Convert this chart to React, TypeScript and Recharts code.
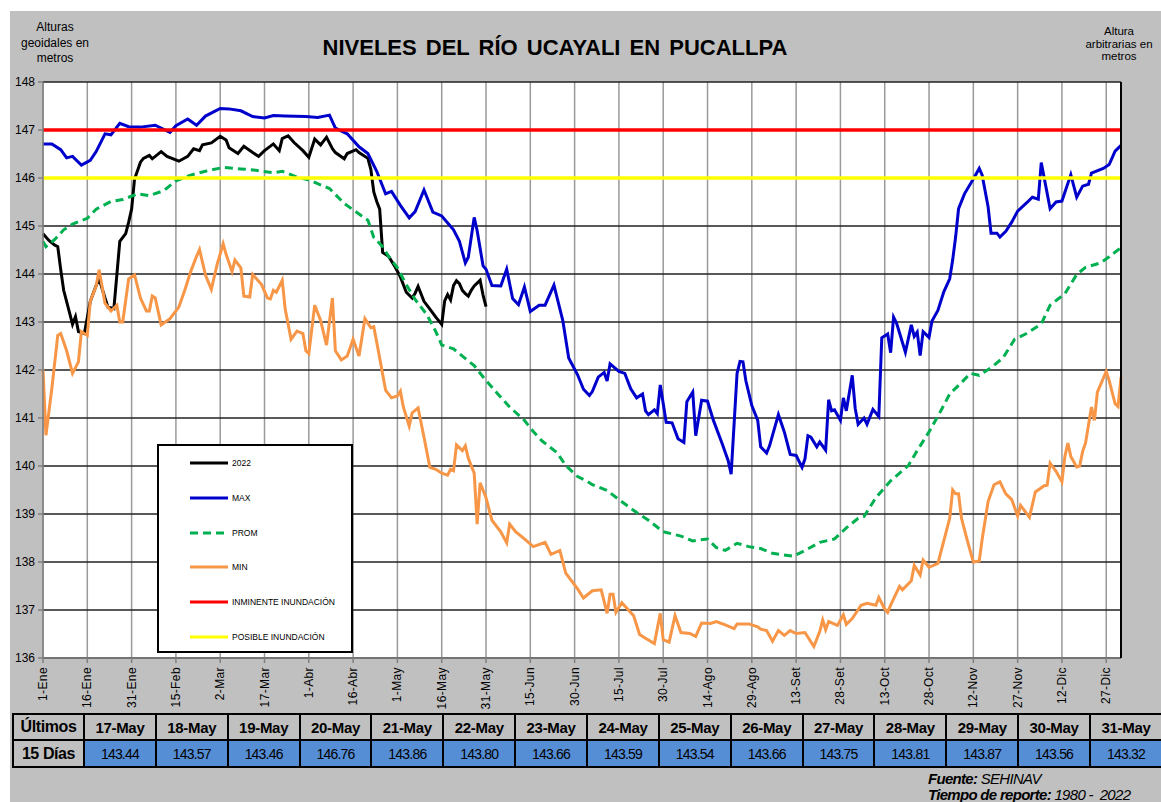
import React from "react";
import { LineChart, Line, XAxis, YAxis, CartesianGrid, Legend } from "recharts";

const FONT = '"Liberation Sans", Arial, sans-serif';
const NARROW = '"Liberation Sans Narrow", "Arial Narrow", "Liberation Sans", Arial, sans-serif';

// eje X: días desde 1-Ene
const xTicks = [0, 15, 30, 45, 60, 75, 90, 105, 120, 135, 150, 165, 180, 195, 210, 225, 240, 255, 270, 285, 300, 315, 330, 345, 360];
const xTickLabels = [
  "1-Ene", "16-Ene", "31-Ene", "15-Feb", "2-Mar", "17-Mar", "1-Abr", "16-Abr", "1-May", "16-May",
  "31-May", "15-Jun", "30-Jun", "15-Jul", "30-Jul", "14-Ago", "29-Ago", "13-Set", "28-Set", "13-Oct",
  "28-Oct", "12-Nov", "27-Nov", "12-Dic", "27-Dic",
];

const yTicks = [136, 137, 138, 139, 140, 141, 142, 143, 144, 145, 146, 147, 148];
// etiquetas del eje derecho (alturas arbitrarias), en el mismo orden que yTicks
const rightTickLabels = [
  "135.7\n5", "136.7\n5", "137.75", "138.7\n5", "139.75", "140.7\n5", "141.75",
  "142.7\n5", "143.7\n5", "144.75", "145.75", "146.75", "147.75",
];

// [día, nivel]
const serie2022: [number, number][] = [
  [0, 144.84], [2, 144.7], [4, 144.6], [5, 144.57], [6, 144.09], [7, 143.66], [9, 143.19], [10, 142.95],
  [11, 143.11], [12, 142.8], [14, 142.76], [16, 143.43], [18, 143.76], [19, 143.9], [21, 143.5], [22, 143.31],
  [24, 143.28], [26, 144.68], [28, 144.84], [29, 145.08], [30, 145.35], [31, 145.98], [33, 146.33], [34, 146.41],
  [36, 146.47], [37, 146.4], [40, 146.55], [42, 146.45], [46, 146.35], [49, 146.45], [51, 146.61], [53, 146.57],
  [54, 146.69], [57, 146.73], [60, 146.87], [62, 146.79], [63, 146.63], [66, 146.51], [68, 146.66], [71, 146.53],
  [73, 146.45], [75, 146.57], [78, 146.71], [80, 146.57], [81, 146.82], [83, 146.88], [85, 146.74], [88, 146.57],
  [90, 146.43], [92, 146.81], [94, 146.69], [96, 146.85], [98, 146.61], [99, 146.53], [102, 146.4], [103, 146.51],
  [106, 146.59], [107, 146.53], [110, 146.41], [111, 146.18], [112, 145.71], [113, 145.51], [114, 145.35],
  [115, 144.45], [117, 144.37], [119, 144.17], [121, 143.94], [123, 143.62], [125, 143.5], [126, 143.6],
  [127, 143.74], [129, 143.43], [131, 143.27], [133, 143.1], [135, 142.95], [136, 143.44], [137, 143.57],
  [138, 143.46], [139, 143.76], [140, 143.86], [141, 143.8], [142, 143.66], [143, 143.59], [144, 143.54],
  [145, 143.66], [146, 143.75], [147, 143.81], [148, 143.87], [149, 143.56], [150, 143.32],
];

const serieMax: [number, number][] = [
  [0, 146.71], [3, 146.71], [6, 146.59], [8, 146.42], [10, 146.45], [13, 146.27], [16, 146.37], [18, 146.55],
  [21, 146.92], [23, 146.9], [26, 147.14], [29, 147.07], [33, 147.06], [38, 147.1], [43, 146.95], [45, 147.09],
  [49, 147.23], [52, 147.1], [55, 147.29], [60, 147.45], [63, 147.44], [67, 147.4], [71, 147.28], [75, 147.25],
  [78, 147.3], [82, 147.29], [89, 147.28], [93, 147.26], [97, 147.31], [99, 147.04], [103, 146.92], [107, 146.65],
  [110, 146.51], [113, 146.14], [116, 145.67], [118, 145.72], [121, 145.43], [124, 145.17], [126, 145.3],
  [129, 145.75], [132, 145.29], [135, 145.21], [139, 144.92], [141, 144.68], [143, 144.23], [144, 144.35],
  [146, 145.18], [147, 144.9], [149, 144.17], [150, 144.1], [152, 143.76], [155, 143.75], [157, 144.1],
  [159, 143.49], [161, 143.36], [163, 143.73], [165, 143.22], [168, 143.35], [170, 143.35], [173, 143.77],
  [176, 143.03], [178, 142.25], [181, 141.9], [183, 141.6], [185, 141.47], [186, 141.55], [188, 141.85],
  [190, 141.95], [191, 141.77], [192, 142.13], [195, 141.97], [197, 141.93], [199, 141.61], [201, 141.42],
  [203, 141.5], [204, 141.15], [205, 141.07], [207, 141.17], [208, 141.09], [209, 141.69], [211, 140.91],
  [213, 140.9], [215, 140.57], [217, 140.49], [218, 141.34], [220, 141.54], [221, 140.63], [223, 141.37],
  [225, 141.35], [227, 140.95], [230, 140.46], [232, 140.11], [233, 139.83], [235, 141.93], [236, 142.18],
  [237, 142.17], [238, 141.77], [240, 141.26], [242, 140.95], [243, 140.4], [245, 140.27], [246, 140.42],
  [249, 141.07], [251, 140.71], [253, 140.24], [255, 140.22], [257, 139.97], [258, 140.15], [259, 140.63],
  [260, 140.6], [262, 140.4], [263, 140.5], [265, 140.33], [266, 141.38], [267, 141.15], [268, 141.17],
  [270, 140.95], [271, 141.42], [272, 141.15], [274, 141.89], [275, 141.2], [276, 140.87], [278, 141.0],
  [279, 140.87], [281, 141.18], [283, 141.03], [284, 142.67], [286, 142.75], [287, 142.36], [288, 143.1],
  [289, 142.98], [292, 142.37], [294, 142.94], [295, 142.7], [296, 142.79], [297, 142.3], [298, 142.8],
  [300, 142.68], [301, 143.02], [303, 143.24], [305, 143.63], [307, 143.9], [308, 144.29], [309, 144.77],
  [310, 145.36], [312, 145.67], [315, 145.98], [317, 146.2], [318, 146.06], [320, 145.4], [321, 144.85],
  [323, 144.85], [324, 144.77], [326, 144.89], [328, 145.08], [330, 145.31], [333, 145.48], [335, 145.6],
  [337, 145.56], [338, 146.32], [341, 145.36], [343, 145.5], [345, 145.52], [348, 146.07], [350, 145.6],
  [352, 145.83], [354, 145.87], [355, 146.1], [359, 146.2], [361, 146.28], [363, 146.56], [365, 146.68],
];

const serieProm: [number, number][] = [
  [0, 144.68], [1, 144.57], [4, 144.72], [7, 144.92], [10, 145.04], [15, 145.16], [18, 145.35], [23, 145.51],
  [27, 145.55], [32, 145.67], [36, 145.63], [41, 145.74], [45, 145.94], [50, 146.06], [55, 146.14], [61, 146.22],
  [67, 146.19], [72, 146.16], [78, 146.11], [81, 146.14], [86, 146.02], [90, 145.96], [97, 145.78], [102, 145.47],
  [107, 145.25], [110, 145.12], [112, 144.76], [115, 144.57], [117, 144.37], [120, 144.13], [123, 143.78],
  [126, 143.47], [130, 143.15], [133, 142.8], [135, 142.52], [139, 142.44], [142, 142.29], [146, 142.09],
  [150, 141.78], [154, 141.5], [158, 141.23], [163, 140.95], [166, 140.72], [169, 140.52], [174, 140.28],
  [177, 140.01], [181, 139.78], [184, 139.69], [186, 139.61], [191, 139.49], [195, 139.3], [201, 139.03],
  [205, 138.87], [210, 138.63], [216, 138.54], [220, 138.44], [225, 138.48], [228, 138.3], [231, 138.24],
  [235, 138.39], [239, 138.32], [243, 138.28], [247, 138.18], [254, 138.12], [258, 138.24], [263, 138.41],
  [268, 138.48], [272, 138.71], [276, 138.91], [278, 138.95], [282, 139.34], [287, 139.69], [293, 140.01],
  [296, 140.32], [300, 140.71], [304, 141.15], [307, 141.5], [311, 141.74], [314, 141.93], [317, 141.89],
  [321, 142.05], [325, 142.25], [329, 142.64], [333, 142.76], [338, 142.96], [341, 143.35], [346, 143.59],
  [350, 143.99], [353, 144.14], [358, 144.23], [361, 144.36], [365, 144.55],
];

const serieMin: [number, number][] = [
  [0, 142.01], [1, 140.64], [3, 141.62], [5, 142.72], [6, 142.76], [8, 142.4], [10, 141.93], [12, 142.17],
  [13, 142.8], [15, 142.72], [16, 143.43], [18, 143.75], [19, 144.09], [21, 143.39], [23, 143.23], [25, 143.35],
  [26, 143.0], [27, 143.0], [29, 143.9], [31, 143.98], [33, 143.5], [35, 143.23], [36, 143.23], [37, 143.54],
  [38, 143.5], [40, 142.94], [43, 143.07], [45, 143.23], [46, 143.31], [48, 143.66], [50, 144.05], [52, 144.37],
  [53, 144.51], [55, 143.98], [57, 143.68], [59, 144.21], [61, 144.63], [62, 144.41], [64, 144.05], [65, 144.29],
  [67, 144.13], [68, 143.54], [70, 143.52], [71, 143.99], [74, 143.78], [76, 143.5], [77, 143.48], [78, 143.66],
  [79, 143.62], [81, 143.87], [82, 143.27], [84, 142.64], [86, 142.81], [88, 142.76], [89, 142.4], [90, 142.34],
  [92, 143.35], [94, 143.03], [96, 142.52], [98, 143.5], [99, 142.4], [101, 142.21], [103, 142.29], [105, 142.64],
  [107, 142.29], [109, 143.07], [111, 142.88], [112, 142.9], [114, 142.25], [116, 141.58], [118, 141.42],
  [120, 141.46], [121, 141.56], [122, 141.23], [124, 140.83], [125, 141.11], [127, 141.21], [129, 140.6],
  [131, 139.97], [133, 139.93], [135, 139.85], [137, 139.81], [138, 139.93], [139, 139.9], [140, 140.44],
  [142, 140.32], [143, 140.42], [144, 140.16], [146, 139.85], [147, 138.79], [148, 139.65], [150, 139.34],
  [152, 138.87], [155, 138.63], [157, 138.4], [158, 138.79], [160, 138.63], [163, 138.48], [166, 138.32],
  [170, 138.41], [172, 138.16], [175, 138.24], [177, 137.77], [181, 137.44], [183, 137.25], [186, 137.4],
  [189, 137.42], [191, 136.93], [192, 137.33], [193, 137.33], [194, 136.95], [196, 137.15], [200, 136.88],
  [202, 136.49], [204, 136.41], [207, 136.3], [209, 136.93], [210, 136.38], [212, 136.33], [214, 136.88],
  [216, 136.53], [219, 136.51], [221, 136.45], [223, 136.73], [226, 136.72], [228, 136.76], [231, 136.69],
  [234, 136.61], [235, 136.71], [239, 136.71], [242, 136.65], [243, 136.6], [245, 136.57], [247, 136.35],
  [249, 136.57], [251, 136.47], [253, 136.57], [255, 136.51], [258, 136.53], [261, 136.24], [263, 136.55],
  [264, 136.79], [265, 136.59], [266, 136.76], [269, 136.68], [271, 136.9], [272, 136.7], [274, 136.82],
  [277, 137.1], [279, 137.14], [282, 137.1], [283, 137.26], [285, 137.02], [286, 136.95], [287, 137.1],
  [290, 137.49], [291, 137.42], [294, 137.61], [295, 137.93], [297, 137.73], [298, 138.04], [300, 137.89],
  [303, 137.97], [305, 138.44], [307, 138.91], [308, 139.5], [309, 139.42], [310, 139.42], [311, 138.91],
  [313, 138.44], [315, 138.0], [317, 138.02], [318, 138.48], [320, 139.26], [322, 139.61], [324, 139.67],
  [326, 139.42], [328, 139.3], [330, 138.96], [331, 139.18], [334, 138.93], [336, 139.46], [339, 139.59],
  [340, 139.6], [341, 140.06], [343, 139.89], [345, 139.67], [346, 140.2], [347, 140.48], [348, 140.2],
  [350, 139.98], [351, 140.0], [352, 140.3], [353, 140.48], [355, 141.23], [356, 140.95], [357, 141.54],
  [360, 141.97], [361, 141.78], [363, 141.3], [364, 141.24], [365, 141.85],
];

const nivelInminente = 147;
const nivelPosible = 146;

const tableDates = [
  "17-May", "18-May", "19-May", "20-May", "21-May", "22-May", "23-May", "24-May",
  "25-May", "26-May", "27-May", "28-May", "29-May", "30-May", "31-May",
];
const tableValues = [
  "143.44", "143.57", "143.46", "146.76", "143.86", "143.80", "143.66", "143.59",
  "143.54", "143.66", "143.75", "143.81", "143.87", "143.56", "143.32",
];

const toPoints = (s: [number, number][]) => s.map(([day, v]) => ({ day, v }));
const level = (v: number) => [{ day: 0, v }, { day: 365, v }];

const series = [
  { name: "2022", data: toPoints(serie2022), color: "#000000", width: 3 },
  { name: "MAX", data: toPoints(serieMax), color: "#0000CC", width: 3 },
  { name: "PROM", data: toPoints(serieProm), color: "#00B050", width: 3, dash: "8 5" },
  { name: "MIN", data: toPoints(serieMin), color: "#F79646", width: 3 },
  { name: "INMINENTE INUNDACIÓN", data: level(nivelInminente), color: "#FF0000", width: 3.5 },
  { name: "POSIBLE INUNDACIÓN", data: level(nivelPosible), color: "#FFFF00", width: 3.5 },
];

function XTick(props: any) {
  const { x, y, payload } = props;
  const label = xTickLabels[xTicks.indexOf(payload.value)];
  return (
    <text
      transform={`translate(${x + 4},${y + 2}) rotate(-90)`}
      textAnchor="end"
      fontSize={12}
      letterSpacing={0.4}
      fill="#000"
      fontFamily={FONT}
    >
      {label}
    </text>
  );
}

function RightTick(props: any) {
  const { x, y, payload } = props;
  const label = rightTickLabels[yTicks.indexOf(payload.value)] || "";
  const parts = label.split("\n");
  if (parts.length === 1) {
    return (
      <text x={x} y={y + 9} fontSize={11} fill="#000" fontFamily={FONT} textAnchor="start">
        {label}
      </text>
    );
  }
  return (
    <text x={x} y={y + 7} fontSize={11} fill="#000" fontFamily={FONT} textAnchor="start">
      <tspan x={x}>{parts[0]}</tspan>
      <tspan x={x} dy={12}>{parts[1]}</tspan>
    </text>
  );
}

function LegendBox() {
  return (
    <div
      style={{
        width: 196,
        height: 209,
        boxSizing: "border-box",
        border: "2px solid #000",
        background: "#fff",
        position: "relative",
        fontFamily: FONT,
      }}
    >
      {series.map((s, i) => (
        <div
          key={s.name}
          style={{
            position: "absolute",
            left: 31,
            top: 11 + i * 34.8,
            height: 12,
            display: "flex",
            alignItems: "center",
            whiteSpace: "nowrap",
          }}
        >
          <svg width={38} height={12}>
            <line x1={0} y1={6} x2={38} y2={6} stroke={s.color} strokeWidth={3} strokeDasharray={s.dash} />
          </svg>
          <span style={{ marginLeft: 4, fontSize: 8.5, color: "#000" }}>{s.name}</span>
        </div>
      ))}
    </div>
  );
}

const cellBase: React.CSSProperties = {
  border: "2px solid #000",
  textAlign: "center",
  padding: 0,
  color: "#000",
};

export default function App() {
  return (
    <div
      style={{
        position: "absolute",
        left: 0,
        top: 0,
        width: 1161,
        height: 802,
        background: "#fff",
        overflow: "hidden",
        fontFamily: FONT,
      }}
    >
      <div style={{ position: "absolute", left: 10, top: 11, right: 0, bottom: 0, background: "#C0C0C0" }} />

      <div
        style={{
          position: "absolute",
          left: 15,
          top: 20,
          width: 80,
          textAlign: "center",
          fontSize: 12,
          lineHeight: "15.5px",
          color: "#000",
        }}
      >
        Alturas
        <br />
        geoidales en
        <br />
        metros
      </div>
      <div
        style={{
          position: "absolute",
          left: 1074,
          top: 25,
          width: 90,
          textAlign: "center",
          fontSize: 11.5,
          lineHeight: "12.5px",
          color: "#000",
        }}
      >
        Altura
        <br />
        arbitrarias en
        <br />
        metros
      </div>
      <div
        style={{
          position: "absolute",
          left: 255,
          top: 34,
          width: 600,
          textAlign: "center",
          fontSize: 22,
          fontWeight: "bold",
          wordSpacing: 3,
          lineHeight: "28px",
          color: "#000",
        }}
      >
        NIVELES DEL RÍO UCAYALI EN PUCALLPA
      </div>

      <div style={{ position: "absolute", left: 0, top: 0 }}>
        <LineChart width={1161} height={710} margin={{ top: 82, right: 0, bottom: 0, left: 10 }}>
          <CartesianGrid yAxisId="left" horizontal={false} stroke="#9A9A9A" strokeWidth={1.5} fill="#fff" />
          <CartesianGrid yAxisId="left" vertical={false} stroke="#222" strokeWidth={1.3} />
          <XAxis
            dataKey="day"
            type="number"
            domain={[0, 365]}
            ticks={xTicks}
            interval={0}
            height={52}
            tickSize={5}
            tickMargin={2}
            tick={<XTick />}
            stroke="#808080"
            strokeWidth={1.5}
          />
          <YAxis
            yAxisId="left"
            domain={[136, 148]}
            ticks={yTicks}
            interval={0}
            width={33}
            tickSize={5}
            tickMargin={3}
            stroke="#808080"
            strokeWidth={1.5}
            tick={{ fontSize: 12, fill: "#000", fontFamily: FONT }}
          />
          <YAxis
            yAxisId="right"
            orientation="right"
            domain={[136, 148]}
            ticks={yTicks}
            interval={0}
            width={40}
            tickLine={false}
            tickSize={0}
            tickMargin={6}
            stroke="#000"
            strokeWidth={2}
            tick={<RightTick />}
          />
          {series.map((s) => (
            <Line
              key={s.name}
              yAxisId="left"
              data={s.data}
              dataKey="v"
              name={s.name}
              type="linear"
              stroke={s.color}
              strokeWidth={s.width}
              strokeDasharray={s.dash}
              dot={false}
              activeDot={false}
              isAnimationActive={false}
            />
          ))}
          <Legend
            layout="vertical"
            align="center"
            verticalAlign="middle"
            wrapperStyle={{ left: 157, top: 444, width: 196, height: 209 }}
            content={() => <LegendBox />}
          />
        </LineChart>
      </div>

      <table
        style={{
          position: "absolute",
          left: 12,
          top: 713,
          width: 1151,
          borderCollapse: "collapse",
          tableLayout: "fixed",
          fontFamily: NARROW,
        }}
      >
        <colgroup>
          <col style={{ width: 71 }} />
          {tableDates.map((d) => (
            <col key={d} />
          ))}
        </colgroup>
        <tbody>
          <tr style={{ height: 26 }}>
            <td style={{ ...cellBase, fontWeight: "bold", fontSize: 16, letterSpacing: -0.4, background: "#C0C0C0" }}>Últimos</td>
            {tableDates.map((d) => (
              <td key={d} style={{ ...cellBase, fontWeight: "bold", fontSize: 15, letterSpacing: -0.3, background: "#C0C0C0" }}>
                {d}
              </td>
            ))}
          </tr>
          <tr style={{ height: 27 }}>
            <td style={{ ...cellBase, fontWeight: "bold", fontSize: 16, letterSpacing: -0.4, background: "#C0C0C0" }}>15 Días</td>
            {tableValues.map((v, i) => (
              <td key={i} style={{ ...cellBase, fontSize: 14, letterSpacing: -0.8, background: "#558ED5" }}>
                {v}
              </td>
            ))}
          </tr>
        </tbody>
      </table>

      <div
        style={{
          position: "absolute",
          left: 928,
          top: 771,
          fontFamily: NARROW,
          fontStyle: "italic",
          fontSize: 15,
          lineHeight: "16px",
          letterSpacing: -0.7,
          color: "#000",
          whiteSpace: "pre",
        }}
      >
        <div>
          <b>Fuente:</b> SEHINAV
        </div>
        <div>
          <b>Tiempo de reporte:</b> 1980 -  2022
        </div>
      </div>
    </div>
  );
}
